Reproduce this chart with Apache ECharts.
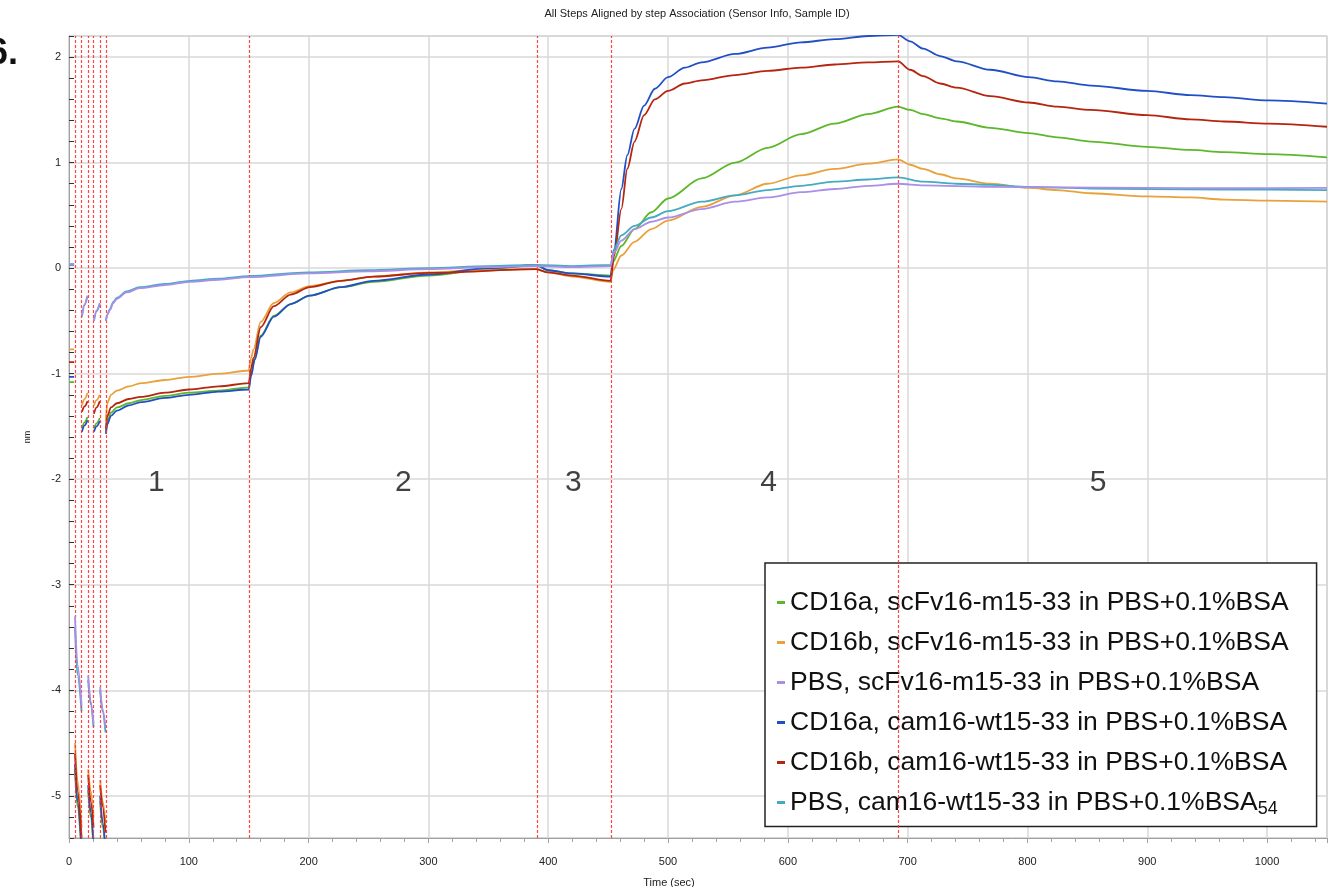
<!DOCTYPE html>
<html>
<head>
<meta charset="utf-8">
<script src="https://cdn.jsdelivr.net/npm/echarts@6/dist/echarts.min.js"></script>
<style>
  html, body { margin: 0; padding: 0; background: #fff; }
  #chart { width: 1335px; height: 887px; }
</style>
</head>
<body>
<div id="chart"></div>
<script>
// ---- Data ----
const seriesNames = [
  'CD16a, scFv16-m15-33 in PBS+0.1%BSA',
  'CD16b, scFv16-m15-33 in PBS+0.1%BSA',
  'PBS, scFv16-m15-33 in PBS+0.1%BSA',
  'CD16a, cam16-wt15-33 in PBS+0.1%BSA',
  'CD16b, cam16-wt15-33 in PBS+0.1%BSA',
  'PBS, cam16-wt15-33 in PBS+0.1%BSA'
];
const seriesColors = ['#5cb82a', '#e9a23b', '#a98fe8', '#2150c6', '#b5250f', '#45abc2'];

// step boundaries (sec) - red dashed lines
const stepBoundaries = [4.8, 10.6, 15.9, 20.6, 25.9, 30.7, 150.5, 390.5, 452.5, 692.5];
// step annotation labels
const stepLabels = ['1', '2', '3', '4', '5'];
const stepLabelTimes = [73, 279, 421, 584, 859];
const stepLabelLevel = -2.03;

// each series: list of segments of [time, nm]
const cd16aScfv = [
  [[0,-1.08],[4.3,-1.08]],
  [[5,-4.75],[7,-5.1],[10.5,-5.55]],
  [[10.8,-1.52],[13,-1.46],[15.5,-1.41]],
  [[16,-4.95],[18,-5.2],[20.5,-5.5]],
  [[20.8,-1.52],[23,-1.47],[25.7,-1.42]],
  [[26,-5.05],[28,-5.3],[30.5,-5.55]],
  [[30.8,-1.55],[32,-1.45],[35,-1.37],[40,-1.32],[50,-1.28],[60,-1.25],[80,-1.21],[100,-1.18],[125,-1.16],[150,-1.13],
   [152,-1.0],[155,-0.85],[160,-0.64],[171,-0.45],[185,-0.34],[201,-0.26],[227,-0.18],[254,-0.13],[300,-0.07],[350,-0.01],[390,0.03],
   [400,-0.02],[420,-0.05],[452,-0.07],
   [454,0.06],[461,0.21],[472,0.37],[486,0.53],[500,0.66],[528,0.85],[556,1.0],[583,1.14],[611,1.27],[639,1.37],[667,1.46],[692,1.53],
   [702,1.50],[713,1.46],[727,1.42],[741,1.39],[769,1.33],[801,1.28],[825,1.24],[853,1.20],[900,1.15],[936,1.12],[964,1.10],[1001,1.08],[1050,1.05]]
];
const cd16bScfv = [
  [[0,-0.77],[4.3,-0.77]],
  [[5,-4.5],[7,-4.85],[10.5,-5.3]],
  [[10.8,-1.30],[13,-1.24],[15.5,-1.18]],
  [[16,-4.75],[18,-4.95],[20.5,-5.2]],
  [[20.8,-1.30],[23,-1.25],[25.7,-1.2]],
  [[26,-4.85],[28,-5.05],[30.5,-5.25]],
  [[30.8,-1.45],[32,-1.28],[35,-1.2],[40,-1.16],[50,-1.12],[60,-1.09],[80,-1.06],[100,-1.03],[125,-1.0],[150,-0.97],
   [152,-0.85],[154,-0.77],[160,-0.51],[171,-0.33],[185,-0.23],[201,-0.17],[227,-0.12],[254,-0.08],[300,-0.04],[340,-0.02],[390,-0.01],
   [400,-0.04],[420,-0.08],[452,-0.13],
   [454,-0.02],[461,0.12],[472,0.25],[486,0.37],[500,0.45],[528,0.58],[556,0.69],[583,0.80],[611,0.88],[639,0.94],[667,0.99],[692,1.03],
   [702,0.98],[713,0.94],[727,0.89],[741,0.85],[769,0.80],[801,0.76],[825,0.74],[853,0.71],[900,0.68],[936,0.67],[964,0.65],[1001,0.64],[1050,0.63]]
];
const pbsScfv = [
  [[0,0.04],[4.3,0.04]],
  [[5,-3.3],[7,-3.75],[10.5,-4.15]],
  [[10.8,-0.45],[13,-0.34],[15.3,-0.26]],
  [[16,-3.86],[18,-4.1],[20.5,-4.32]],
  [[20.8,-0.50],[23,-0.40],[25.7,-0.33]],
  [[26,-3.97],[28,-4.18],[30.5,-4.35]],
  [[30.8,-0.5],[32,-0.44],[34,-0.40],[37,-0.33],[40,-0.29],[48,-0.23],[59,-0.19],[80,-0.16],[101,-0.13],[125,-0.11],[150,-0.085],
   [200,-0.05],[250,-0.03],[300,-0.01],[350,0.01],[390,0.02],
   [420,0.01],[452,0.02],
   [455,0.15],[461,0.26],[472,0.37],[486,0.44],[500,0.48],[528,0.56],[556,0.63],[583,0.67],[611,0.72],[639,0.75],[667,0.78],[692,0.80],
   [713,0.785],[769,0.77],[825,0.765],[900,0.76],[964,0.757],[1050,0.76]]
];
const cd16aCam = [
  [[0,-1.03],[4.3,-1.03]],
  [[5,-4.7],[7,-5.05],[10.5,-5.5]],
  [[10.8,-1.55],[13,-1.49],[15.5,-1.44]],
  [[16,-4.9],[18,-5.15],[20.5,-5.45]],
  [[20.8,-1.55],[23,-1.5],[25.7,-1.45]],
  [[26,-5.0],[28,-5.25],[30.5,-5.5]],
  [[30.8,-1.57],[32,-1.48],[35,-1.40],[40,-1.35],[50,-1.30],[60,-1.27],[80,-1.23],[100,-1.20],[125,-1.17],[150,-1.15],
   [152,-1.02],[155,-0.87],[160,-0.65],[171,-0.46],[185,-0.34],[201,-0.26],[227,-0.18],[254,-0.12],[300,-0.06],[350,0.0],[390,0.03],
   [400,-0.02],[420,-0.05],[452,-0.08],
   [455,0.18],[461,0.75],[466,1.07],[472,1.32],[480,1.54],[489,1.70],[500,1.81],[514,1.90],[528,1.95],[556,2.03],[583,2.09],[611,2.14],[639,2.17],[667,2.20],[692,2.21],
   [702,2.15],[713,2.08],[727,2.01],[741,1.96],[769,1.88],[801,1.81],[825,1.77],[853,1.73],[900,1.68],[936,1.64],[964,1.62],[1001,1.59],[1050,1.56]]
];
const cd16bCam = [
  [[0,-0.89],[4.3,-0.89]],
  [[5,-4.6],[7,-4.95],[10.5,-5.4]],
  [[10.8,-1.36],[13,-1.31],[15.5,-1.26]],
  [[16,-4.8],[18,-5.05],[20.5,-5.3]],
  [[20.8,-1.38],[23,-1.32],[25.7,-1.26]],
  [[26,-4.9],[28,-5.1],[30.5,-5.35]],
  [[30.8,-1.52],[32,-1.4],[35,-1.32],[40,-1.28],[50,-1.24],[60,-1.22],[80,-1.18],[100,-1.15],[125,-1.12],[150,-1.09],
   [152,-0.95],[154,-0.85],[160,-0.56],[171,-0.36],[185,-0.25],[201,-0.18],[227,-0.12],[254,-0.08],[300,-0.045],[390,-0.01],
   [400,-0.04],[420,-0.07],[452,-0.12],
   [455,0.12],[461,0.56],[466,0.94],[472,1.20],[480,1.45],[489,1.60],[500,1.68],[514,1.75],[528,1.78],[556,1.83],[583,1.87],[611,1.90],[639,1.93],[667,1.95],[692,1.96],
   [702,1.88],[713,1.82],[727,1.75],[741,1.71],[769,1.63],[801,1.57],[825,1.53],[853,1.50],[900,1.45],[936,1.41],[964,1.39],[1001,1.37],[1050,1.34]]
];
const pbsCam = [
  [[0,0.03],[4.3,0.03]],
  [[5,-3.4],[7,-3.85],[10.5,-4.2]],
  [[10.8,-0.46],[13,-0.35],[15.3,-0.27]],
  [[16,-3.9],[18,-4.13],[20.5,-4.35]],
  [[20.8,-0.5],[23,-0.41],[25.7,-0.34]],
  [[26,-4.0],[28,-4.2],[30.5,-4.4]],
  [[30.8,-0.5],[32,-0.44],[34,-0.39],[37,-0.32],[40,-0.28],[48,-0.22],[59,-0.18],[80,-0.15],[101,-0.12],[125,-0.1],[150,-0.075],
   [200,-0.04],[250,-0.02],[300,0.0],[350,0.02],[390,0.03],[420,0.02],[452,0.03],
   [455,0.18],[461,0.31],[472,0.40],[486,0.48],[500,0.54],[528,0.63],[556,0.69],[583,0.74],[611,0.78],[639,0.82],[667,0.84],[692,0.86],
   [713,0.82],[741,0.80],[769,0.79],[801,0.77],[853,0.755],[900,0.75],[964,0.745],[1050,0.74]]
];
const seriesSegments = [cd16aScfv, cd16bScfv, pbsScfv, cd16aCam, cd16bCam, pbsCam];
const seriesZ = [3, 3, 5, 3, 3, 4];

// ---- Build chart ----
function flatten(segs) {
  const out = [];
  segs.forEach((seg, i) => {
    if (i > 0) out.push([seg[0][0], '-']);
    seg.forEach(p => out.push(p));
  });
  return out;
}

const FONT = "'Liberation Sans', Arial, sans-serif";

const lineSeries = seriesNames.map((name, i) => ({
  name: name,
  type: 'line',
  data: flatten(seriesSegments[i]),
  showSymbol: false,
  symbol: 'none',
  connectNulls: false,
  smooth: 0.3,
  smoothMonotone: 'x',
  z: seriesZ[i],
  lineStyle: { color: seriesColors[i], width: 1.8 },
  itemStyle: { color: seriesColors[i] },
  emphasis: { disabled: true }
}));

lineSeries[0].markLine = {
  silent: true,
  symbol: ['none', 'none'],
  label: { show: false },
  lineStyle: { color: '#ff3030', type: [3, 2], width: 1.2, opacity: 0.9 },
  data: stepBoundaries.map(v => ({ xAxis: v }))
};

const stepSeries = {
  type: 'scatter',
  name: 'steps',
  symbolSize: 1,
  itemStyle: { color: 'rgba(0,0,0,0)' },
  silent: true,
  z: 10,
  data: stepLabels.map((s, i) => ({ name: s, value: [stepLabelTimes[i], stepLabelLevel] })),
  label: {
    show: true,
    position: 'inside',
    formatter: p => p.name,
    fontSize: 30,
    fontFamily: FONT,
    color: '#111'
  }
};

const chart = echarts.init(document.getElementById('chart'));
chart.setOption({
  animation: false,
  backgroundColor: '#fff',
  title: {
    text: 'All Steps Aligned by step Association (Sensor Info, Sample ID)',
    left: 692,
    textAlign: 'center',
    top: 3,
    textStyle: { fontSize: 11, fontWeight: 'normal', color: '#222', fontFamily: FONT }
  },
  graphic: [{
    type: 'text',
    left: -12,
    top: 36,
    style: { text: '6.', font: "bold 36px 'Liberation Sans', Arial", fill: '#111' }
  }],
  grid: {
    left: 69, top: 36, right: 8, bottom: 49,
    containLabel: false,
    outerBoundsMode: 'none',
    show: true, borderColor: '#b0b0b0', borderWidth: 1, backgroundColor: '#fff'
  },
  legend: {
    data: seriesNames,
    orient: 'vertical',
    left: 765,
    top: 563,
    padding: [26, 28, 8, 12],
    itemGap: 13,
    itemWidth: 8,
    itemHeight: 3,
    icon: 'rect',
    backgroundColor: '#fff',
    borderColor: '#222',
    borderWidth: 1.5,
    borderRadius: 0,
    selectedMode: false,
    textStyle: {
      fontSize: 26.5,
      fontFamily: FONT,
      color: '#111',
      rich: {
        sub: { fontSize: 18, fontFamily: FONT, color: '#111', verticalAlign: 'bottom', padding: [14, 0, 0, 0] }
      }
    },
    formatter: name => name === seriesNames[5] ? name + '{sub|54}' : name
  },
  xAxis: {
    type: 'value',
    min: 0,
    max: 1050,
    interval: 100,
    name: 'Time (sec)',
    nameLocation: 'middle',
    nameGap: 39,
    nameTextStyle: { fontSize: 11, color: '#222', fontFamily: FONT, padding: [0, 58, 0, 0] },
    axisLine: { show: true, onZero: false, lineStyle: { color: '#a0a0a0' } },
    axisTick: { show: true, length: 5, lineStyle: { color: '#a0a0a0' } },
    minorTick: { show: true, splitNumber: 5, length: 4, lineStyle: { color: '#a0a0a0' } },
    axisLabel: { fontSize: 11, color: '#222', margin: 18, fontFamily: FONT, showMaxLabel: false, formatter: v => String(v) },
    splitLine: { show: true, lineStyle: { color: '#d9d9d9', width: 1.5 } }
  },
  yAxis: {
    type: 'value',
    min: -5.4,
    max: 2.2,
    splitNumber: 7,
    name: 'nm',
    nameLocation: 'middle',
    nameGap: 37,
    nameRotate: 90,
    nameTextStyle: { fontSize: 9, color: '#222', fontFamily: FONT },
    axisLine: { show: true, onZero: false, lineStyle: { color: '#a0a0a0' } },
    axisTick: { show: true, inside: true, length: 5, lineStyle: { color: '#333' } },
    minorTick: { show: true, splitNumber: 5, length: 5, lineStyle: { color: '#333' } },
    axisLabel: { fontSize: 11, color: '#222', margin: 8, fontFamily: FONT, showMinLabel: false, showMaxLabel: false },
    splitLine: { show: true, lineStyle: { color: '#d9d9d9', width: 1.5 } }
  },
  series: lineSeries.concat([stepSeries])
});
</script>
</body>
</html>
